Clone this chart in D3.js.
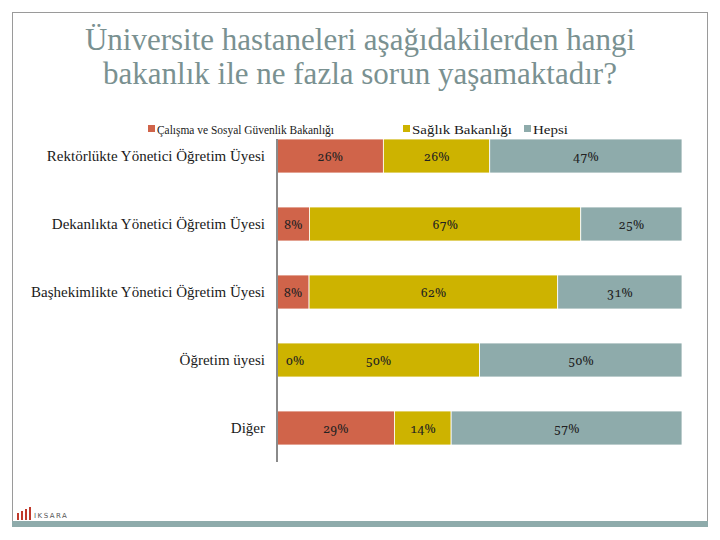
<!DOCTYPE html>
<html><head><meta charset="utf-8">
<script src="https://cdn.jsdelivr.net/npm/d3@7"></script>
<style>body{margin:0;background:#fff}svg{display:block}.lbl{font-variant-numeric:oldstyle-nums}</style>
</head><body>
<svg id="c" width="720" height="540"></svg>
<script>
const titleLines = ["Üniversite hastaneleri aşağıdakilerden hangi", "bakanlık ile ne fazla sorun yaşamaktadır?"];
const categories = ["Rektörlükte Yönetici Öğretim Üyesi", "Dekanlıkta Yönetici Öğretim Üyesi", "Başhekimlikte Yönetici Öğretim Üyesi", "Öğretim üyesi", "Diğer"];
const seriesNames = ["Çalışma ve Sosyal Güvenlik Bakanlığı", "Sağlık Bakanlığı", "Hepsi"];
const calisma = [26, 8, 8, 0, 29];
const saglik = [26, 67, 62, 50, 14];
const hepsi = [47, 25, 31, 50, 57];
const colors = ["#d0644a", "#cdb300", "#8eabab"];

const SERIF = "'Liberation Serif', 'Times New Roman', serif";
const svg = d3.select("#c");
// frame
svg.append("rect").attr("x",12.5).attr("y",12.5).attr("width",695).attr("height",514)
  .attr("fill","none").attr("stroke","#9a9a9a").attr("stroke-width",1);
svg.append("rect").attr("x",12).attr("y",521).attr("width",696).attr("height",6).attr("fill","#8eabab");

// title
svg.append("g").selectAll("text").data(titleLines).join("text")
  .attr("x",360).attr("y",(d,i)=>50+i*34).attr("text-anchor","middle")
  .attr("font-family",SERIF).attr("font-size",31).attr("fill","#7a9191")
  .text(d=>d);

const x = d3.scaleLinear().domain([0,100]).range([277,682]);
const y = d3.scaleBand().domain(categories).range([122,462]).paddingInner(0.5).paddingOuter(0.25);

const rows = categories.map((c,i)=>({cat:c, calisma:calisma[i], saglik:saglik[i], hepsi:hepsi[i]}));
const keys = ["calisma","saglik","hepsi"];
const stack = d3.stack().keys(keys).offset(d3.stackOffsetExpand);
const series = stack(rows);

const g = svg.append("g");
series.forEach((s,si)=>{
  g.append("g").selectAll("rect").data(s).join("rect")
    .attr("x",d=>x(d[0]*100)).attr("y",d=>y(d.data.cat))
    .attr("width",d=>x(d[1]*100)-x(d[0]*100)).attr("height",y.bandwidth())
    .attr("fill",colors[si]).attr("stroke","#fff").attr("stroke-width",d=>(d[1]-d[0])>0?0.8:0);
});
series.forEach((s,si)=>{
  g.append("g").selectAll("text").data(s).join("text")
    .attr("class","lbl")
    .attr("x",d=>{const w=d[1]-d[0]; return w>0 ? (x(d[0]*100)+x(d[1]*100))/2 : x(d[0]*100)+18;})
    .attr("y",d=>y(d.data.cat)+y.bandwidth()/2+5)
    .attr("text-anchor","middle")
    .attr("font-family","'Noto Serif', 'DejaVu Serif', serif").attr("font-size",12.5).attr("fill","#222")
    .text(d=>d.data[keys[si]]+"%");
});

// axis
const yAxis = d3.axisLeft(y).tickSize(0).tickPadding(12);
const ag = svg.append("g").attr("transform","translate(277,0)").call(yAxis);
ag.attr("font-family",SERIF);
ag.select(".domain").attr("stroke","#8a8a8a").attr("stroke-width",2).attr("d","M0,139V462");
ag.selectAll("text").attr("font-family",SERIF).attr("font-size",15).attr("fill","#1a1a1a");

// legend
const legX = [148, 403, 524];
const legW = [177, 100, 35];
const lg = svg.append("g");
seriesNames.forEach((n,i)=>{
  lg.append("rect").attr("x",legX[i]).attr("y",125).attr("width",7).attr("height",7).attr("fill",colors[i]);
  lg.append("text").attr("x",legX[i]+9).attr("y",134).attr("font-family",SERIF)
    .attr("font-size",13.5).attr("fill","#1a1a1a")
    .attr("textLength",legW[i]).attr("lengthAdjust","spacingAndGlyphs").text(n);
});

// logo
const logo = svg.append("g");
[[17,7],[21,9],[25,11],[29,13]].forEach(([lx,h])=>logo.append("rect").attr("x",lx).attr("y",520-h).attr("width",2).attr("height",h).attr("fill","#c0392b"));
logo.append("text").attr("x",34).attr("y",518).attr("font-family","'DejaVu Sans', sans-serif").attr("font-size",7).attr("letter-spacing",1.5).attr("fill","#555").text("IKSARA");
</script>
</body></html>
